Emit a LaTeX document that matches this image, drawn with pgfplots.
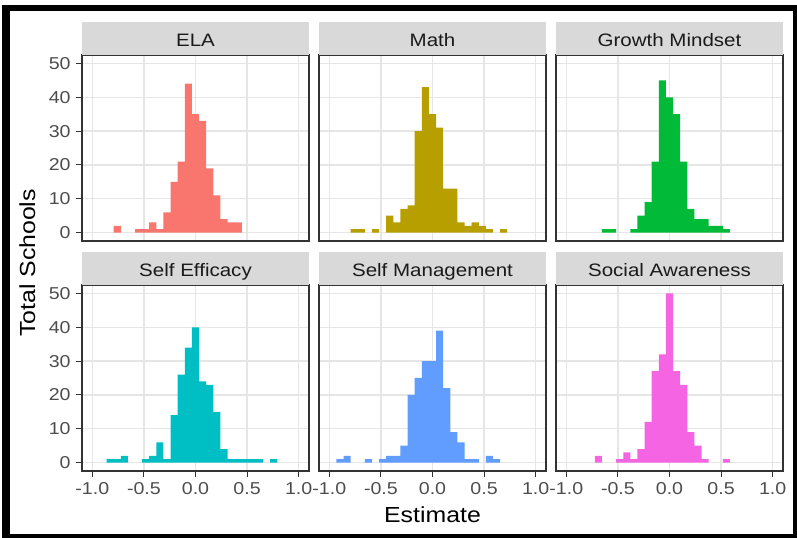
\documentclass[border=0pt]{standalone}
\usepackage{pgfplots}
\pgfplotsset{compat=1.18}
\usepackage{fontspec}
\setmainfont[FakeStretch=1.14]{Liberation Sans}
\definecolor{gridgrey}{HTML}{E6E6E6}
\definecolor{grey20}{HTML}{333333}
\definecolor{tickgrey}{HTML}{4D4D4D}
\definecolor{stripgrey}{HTML}{D9D9D9}
\definecolor{striptext}{HTML}{1A1A1A}
\definecolor{cELA}{HTML}{F8766D}
\definecolor{cMath}{HTML}{B79F00}
\definecolor{cGM}{HTML}{00BA38}
\definecolor{cSE}{HTML}{00BFC4}
\definecolor{cSM}{HTML}{619CFF}
\definecolor{cSA}{HTML}{F564E3}
\newcommand{\tickfont}{\fontsize{8.6bp}{10bp}\selectfont}
\newcommand{\stripfont}{\fontsize{9bp}{10bp}\selectfont}
\newcommand{\titlefont}{\fontsize{10.9bp}{12bp}\selectfont}
\pgfplotsset{
  facet/.style={
    width=113.5bp, height=93bp, scale only axis, anchor=south west,
    xmin=-1.1, xmax=1.1, ymin=-2.5, ymax=52.5,
    xtick={-1,-0.5,0,0.5,1}, ytick={0,10,20,30,40,50},
    xticklabels={}, yticklabels={},
    grid=major, major grid style={color=gridgrey, line width=0.7bp},
    axis line style={color=grey20, line width=0.6bp},
    tick align=outside, tick pos=left, major tick length=3bp,
    every tick/.style={color=grey20, line width=0.5bp},
    every tick label/.append style={font=\tickfont, text=tickgrey},
  },
  showx/.style={xticklabels={-1.0,-0.5,0.0,0.5,1.0},
    xticklabel style={inner sep=0pt, yshift=-2.5bp}},
  showy/.style={yticklabels={0,10,20,30,40,50},
    yticklabel style={inner sep=0pt, xshift=-2.5bp}},
  hidex/.style={xtick style={draw=none}},
  hidey/.style={ytick style={draw=none}},
  hist/.style={ybar, bar width=0.0689655, bar shift=0pt, draw=none, fill=#1},
}
\begin{document}
\begin{tikzpicture}
\useasboundingbox (0,0) rectangle (398.5bp,269bp);
% ---------- row 1 ----------
\begin{axis}[facet, showy, hidex, at={(41bp,148.5bp)}]
\addplot[hist=cELA] coordinates {
(-0.758621,2) (-0.551724,1) (-0.482759,1) (-0.413793,3) (-0.344828,1)
(-0.275862,6) (-0.206897,15) (-0.137931,21) (-0.068966,44) (0,35)
(0.068966,33) (0.137931,19) (0.206897,11) (0.275862,4) (0.344828,3) (0.413793,3)};
\end{axis}
\begin{axis}[facet, hidex, hidey, at={(159.5bp,148.5bp)}]
\addplot[hist=cMath] coordinates {
(-0.758621,1) (-0.689655,1) (-0.551724,1) (-0.413793,5) (-0.344828,3)
(-0.275862,7) (-0.206897,8) (-0.137931,30) (-0.068966,43) (0,35)
(0.068966,31) (0.137931,13) (0.206897,13) (0.275862,3) (0.344828,2)
(0.413793,3) (0.482759,2) (0.551724,1) (0.689655,1)};
\end{axis}
\begin{axis}[facet, hidex, hidey, at={(278bp,148.5bp)}]
\addplot[hist=cGM] coordinates {
(-0.620690,1) (-0.551724,1) (-0.344828,1) (-0.275862,5) (-0.206897,9)
(-0.137931,21) (-0.068966,45) (0,40) (0.068966,35) (0.137931,21)
(0.206897,7) (0.275862,4) (0.344828,4) (0.413793,2) (0.482759,2) (0.551724,1)};
\end{axis}
% ---------- row 2 ----------
\begin{axis}[facet, showx, showy, at={(41bp,33.5bp)}]
\addplot[hist=cSE] coordinates {
(-0.827586,1) (-0.758621,1) (-0.689655,2) (-0.482759,1) (-0.413793,2)
(-0.344828,6) (-0.275862,1) (-0.206897,14) (-0.137931,26) (-0.068966,34)
(0,40) (0.068966,24) (0.137931,23) (0.206897,15) (0.275862,4)
(0.344828,1) (0.413793,1) (0.482759,1) (0.551724,1) (0.620690,1) (0.758621,1)};
\end{axis}
\begin{axis}[facet, showx, hidey, at={(159.5bp,33.5bp)}]
\addplot[hist=cSM] coordinates {
(-0.896552,1) (-0.827586,2) (-0.620690,1) (-0.482759,1) (-0.413793,2)
(-0.344828,2) (-0.275862,5) (-0.206897,20) (-0.137931,25) (-0.068966,30)
(0,30) (0.068966,39) (0.137931,22) (0.206897,9) (0.275862,6)
(0.344828,1) (0.413793,1) (0.551724,2) (0.620690,1)};
\end{axis}
\begin{axis}[facet, showx, hidey, at={(278bp,33.5bp)}]
\addplot[hist=cSA] coordinates {
(-0.689655,2) (-0.482759,1) (-0.413793,3) (-0.344828,1) (-0.275862,4)
(-0.206897,12) (-0.137931,27) (-0.068966,32) (0,50) (0.068966,27)
(0.137931,23) (0.206897,9) (0.275862,5) (0.344828,1) (0.551724,1)};
\end{axis}
% ---------- strips ----------
\foreach \xx/\yy/\lab in {41/241.5/ELA, 159.5/241.5/Math, 278/241.5/Growth Mindset,
  41/126.5/Self Efficacy, 159.5/126.5/Self Management, 278/126.5/Social Awareness}{
  \fill[stripgrey] (\xx bp,\yy bp) rectangle ++(113.5bp,16.5bp);
  \node[anchor=base, inner sep=0pt, text=striptext, font=\stripfont]
    at ([xshift=56.75bp,yshift=4.1bp]\xx bp,\yy bp) {\lab};
}
% ---------- axis titles ----------
\node[anchor=base, inner sep=0pt, font=\titlefont] at (216.25bp,8bp) {Estimate};
\node[anchor=base, rotate=90, inner sep=0pt, font=\titlefont] at (17.5bp,137.5bp) {Total Schools};
% ---------- frame ----------
\fill[black] (0.8bp,0) rectangle (5bp,266.5bp);
\fill[black] (0.8bp,263.5bp) rectangle (398.5bp,266.5bp);
\fill[black] (396.5bp,0) rectangle (398.5bp,266.5bp);
\fill[black] (0.8bp,0) rectangle (398.5bp,2bp);
\end{tikzpicture}
\end{document}
